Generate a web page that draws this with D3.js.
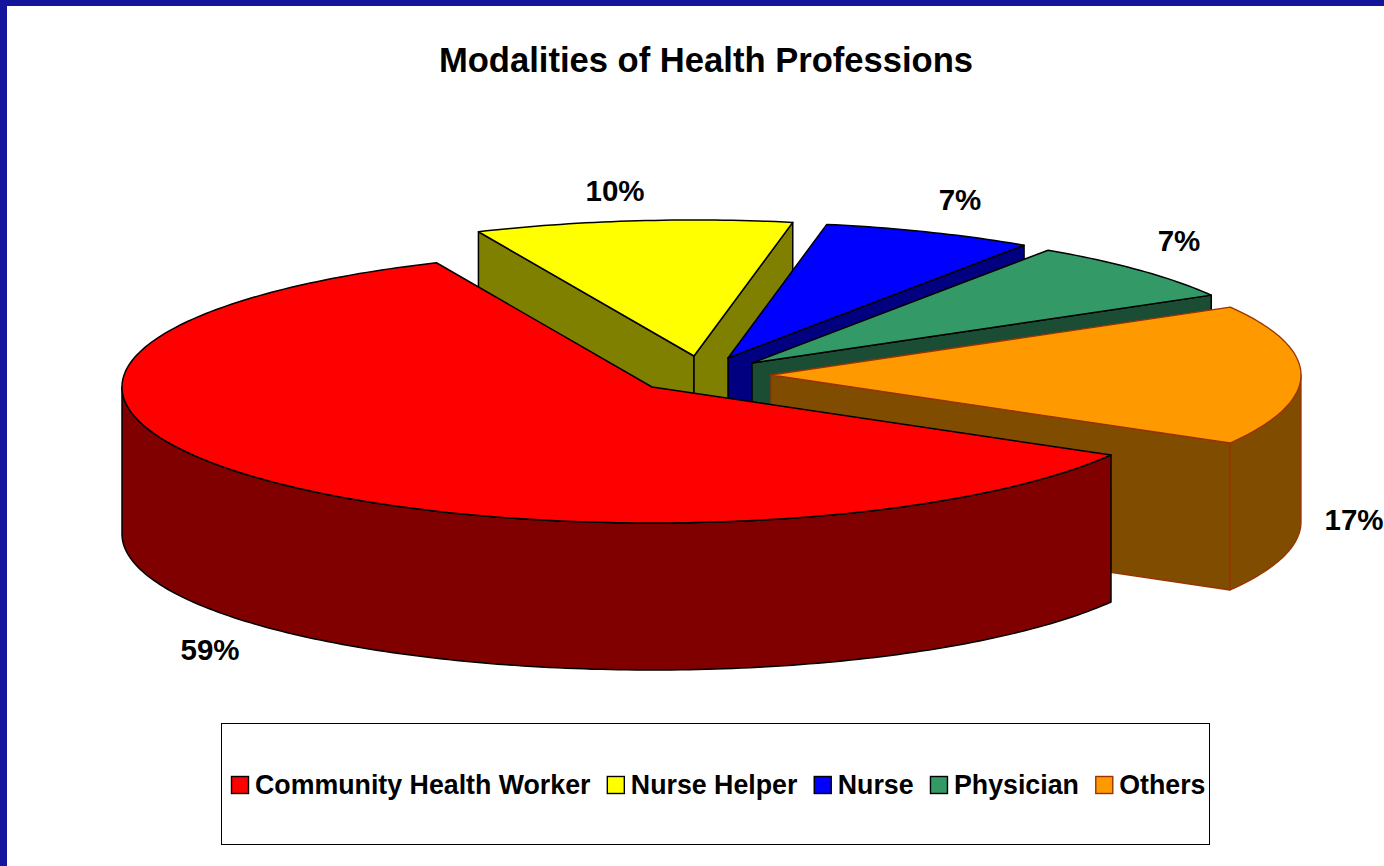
<!DOCTYPE html>
<html><head><meta charset="utf-8">
<script src="https://cdnjs.cloudflare.com/ajax/libs/d3/7.8.5/d3.min.js"></script>
<style>html,body{margin:0;padding:0;background:#fff}svg{display:block}text{font-family:"Liberation Sans",Arial,sans-serif;font-weight:bold;fill:#000}</style>
</head><body><svg id="c" width="1384" height="866"></svg>
<script>
const chartTitle = "Modalities of Health Professions";
const categories = ["Community Health Worker","Nurse Helper","Nurse","Physician","Others"];
const values = [60,9.65,6.45,7.25,16.65];
const percentLabels = ["59%","10%","7%","7%","17%"];
const topColors = ["#ff0000","#ffff00","#0000ff","#339966","#ff9900"];
const sideColors = ["#800000","#808000","#000080","#1a4d33","#804d00"];
const strokeColors = ["#000000","#000000","#000000","#000000","#993300"];

// layout
const W=1384,H=866, RX=530, RY=136, DEPTH=147;
const centers=[[652,387],[694,356],[728,358],[752,363],[771,375]];
const labelPos=[[210,650],[615,191],[960,200],[1179,241],[1354,520]];
const rot=(30+90)*Math.PI/180;
const svg=d3.select("#c");
svg.append("rect").attr("width",W).attr("height",6).attr("fill","#14149c");
svg.append("rect").attr("width",7).attr("height",H).attr("fill","#14149c");

svg.append("text").attr("x",706).attr("y",72).attr("text-anchor","middle").attr("font-size",34.6).text(chartTitle);

const pie=d3.pie().sort(null).startAngle(rot).endAngle(rot+2*Math.PI);
const arcs=pie(values).map((d,i)=>({...d,i,cat:categories[i]}));
const sx=d3.scaleLinear().domain([-1,1]).range([-RX,RX]);
const sy=d3.scaleLinear().domain([-1,1]).range([-RY,RY]);
const pt=(c,a,dz=0)=>{const t=a-Math.PI/2;return [c[0]+sx(Math.cos(t)),c[1]+sy(Math.sin(t))+dz];};
const line=d3.line();
const sample=(a0,a1)=>{const n=Math.max(2,Math.ceil(Math.abs(a1-a0)*60));return d3.range(n+1).map(k=>a0+(a1-a0)*k/n);};

// draw order: back slices first, the large red one last
const order=[1,2,3,4,0];
order.forEach(idx=>{
  const d=arcs[idx],c=centers[idx],g=svg.append("g");
  const side=sideColors[idx],st=strokeColors[idx];
  const sw=idx===4?1.3:1.5;
  const poly=(pts)=>g.append("path").attr("d",line(pts)+"Z").attr("fill",side).attr("stroke",st).attr("stroke-width",sw).attr("stroke-linejoin","round");
  const cosS=Math.cos(d.startAngle-Math.PI/2),cosE=Math.cos(d.endAngle-Math.PI/2);
  if(cosS<0){const p=pt(c,d.startAngle);poly([c,p,[p[0],p[1]+DEPTH],[c[0],c[1]+DEPTH]]);}
  if(cosE>0){const p=pt(c,d.endAngle);poly([c,p,[p[0],p[1]+DEPTH],[c[0],c[1]+DEPTH]]);}
  // outer wall: front half of the ellipse (screen angle 0..PI)
  const t0=d.startAngle-Math.PI/2,t1=d.endAngle-Math.PI/2;
  for(let m=-1;m<=2;m++){
    const lo=Math.max(t0,2*Math.PI*m),hi=Math.min(t1,2*Math.PI*m+Math.PI);
    if(hi>lo){
      const as=sample(lo+Math.PI/2,hi+Math.PI/2);
      const top=as.map(a=>pt(c,a)),bot=as.map(a=>pt(c,a,DEPTH)).reverse();
      poly(top.concat(bot));
    }
  }
  const rim=sample(d.startAngle,d.endAngle).map(a=>pt(c,a));
  g.append("path").attr("d",line([c].concat(rim))+"Z").attr("fill",topColors[idx]).attr("stroke",st).attr("stroke-width",sw).attr("stroke-linejoin","round");
});

svg.selectAll("text.pct").data(percentLabels).enter().append("text").attr("class","pct")
  .attr("x",(d,i)=>labelPos[i][0]).attr("y",(d,i)=>labelPos[i][1]+10)
  .attr("text-anchor","middle").attr("font-size",29.5).text(d=>d);

// legend
svg.append("rect").attr("x",221.5).attr("y",723.5).attr("width",988).attr("height",121).attr("fill","#fff").attr("stroke","#000").attr("stroke-width",1);
let lx=231;
categories.forEach((t,i)=>{
  svg.append("rect").attr("x",lx+.5).attr("y",776.5).attr("width",17).attr("height",17).attr("fill",topColors[i]).attr("stroke",strokeColors[i]).attr("stroke-width",1.4);
  const e=svg.append("text").attr("x",lx+24).attr("y",794).attr("font-size",26.75).text(t);
  lx+=24+e.node().getComputedTextLength()+16.4;
});
</script></body></html>
